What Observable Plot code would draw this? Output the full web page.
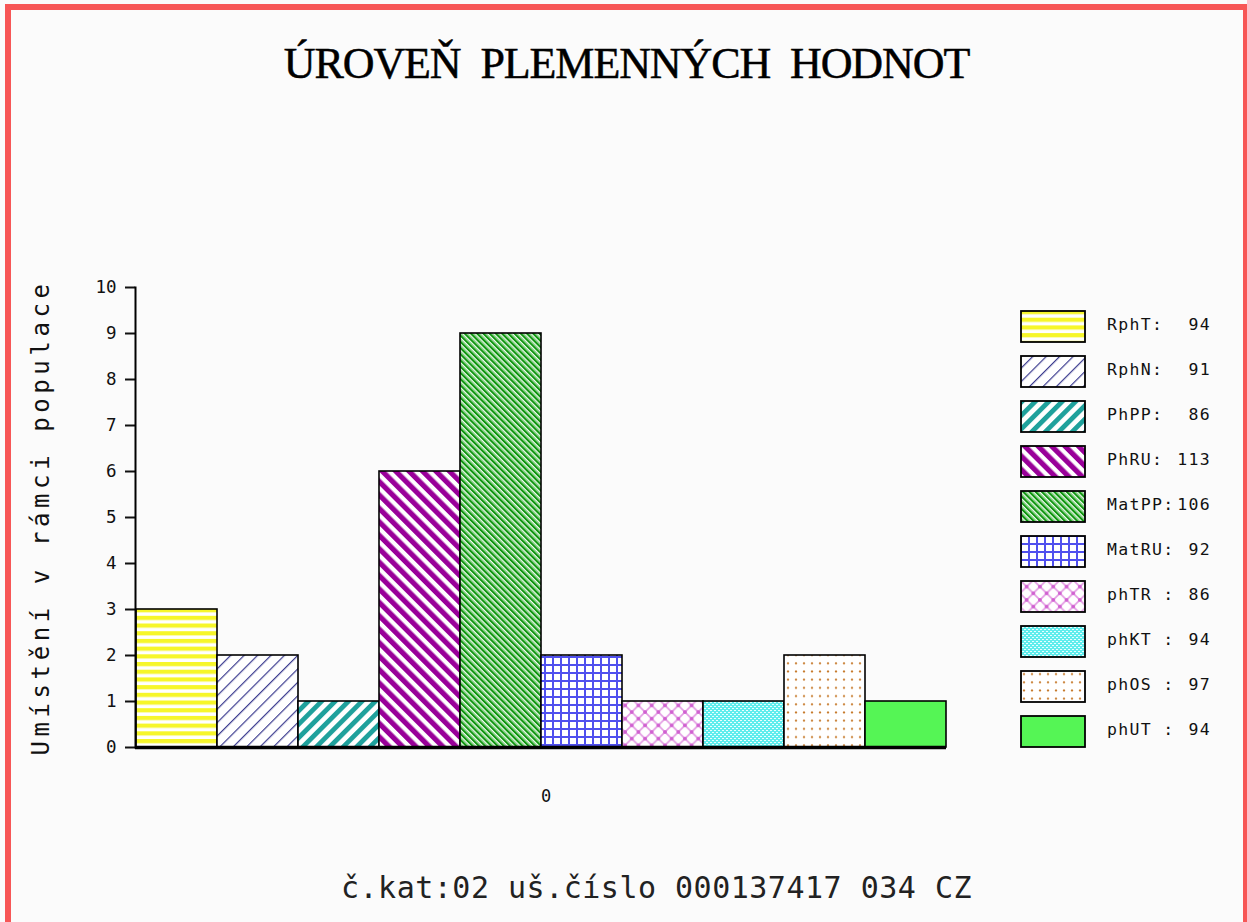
<!DOCTYPE html>
<html>
<head>
<meta charset="utf-8">
<script src="https://cdn.jsdelivr.net/npm/d3@7"></script>
<script src="https://cdn.jsdelivr.net/npm/@observablehq/plot@0.6"></script>
<style>
  html, body { margin: 0; padding: 0; background: #ffffff; overflow: hidden; }
  #page { position: relative; width: 1247px; height: 922px; overflow: hidden; background: #fbfbfb; }
  #frame { position: absolute; left: 5px; top: 4px; width: 1244px; height: 940px; box-sizing: border-box; border: 6px solid #f75656; }
  #title { position: absolute; left: 0; width: 1247px; top: 38px; text-align: center;
           font-family: "Liberation Serif", serif; font-size: 44px; letter-spacing: -1.1px; word-spacing: 10px; color: #000;
           -webkit-text-stroke: 0.5px #000; padding-left: 6px; box-sizing: border-box; }
  #chart { position: absolute; left: 0; top: 200px; }
  #chart g[aria-label="y-axis label"] text { letter-spacing: 4.6px; }
  #caption { position: absolute; left: 0; width: 1247px; top: 870px; text-align: center; padding-left: 66px; box-sizing: border-box;
             font-family: "DejaVu Sans Mono", monospace; font-size: 30px; letter-spacing: 0.5px; color: #222; }
  #legend { position: absolute; left: 1020px; top: 310px; }
  .row { position: relative; height: 45px; width: 200px; }
  .row svg { position: absolute; left: 0; top: 0; }
  .row .lab { position: absolute; left: 87px; top: 5px; font-family: "DejaVu Sans Mono", monospace; font-size: 16.5px; letter-spacing: 1.3px; color: #111; white-space: pre; }
  .row .val { position: absolute; right: 9px; top: 5px; font-family: "DejaVu Sans Mono", monospace; font-size: 16.5px; letter-spacing: 1.3px; color: #111; }
</style>
</head>
<body>
<div id="page">
  <svg width="0" height="0" style="position:absolute">
    <defs>
      <pattern id="p0" patternUnits="userSpaceOnUse" width="8" height="7.7">
        <rect width="8" height="7.7" fill="#ffffff"/>
        <rect y="0" width="8" height="4.2" fill="#f6f62a"/>
      </pattern>
      <pattern id="p1" patternUnits="userSpaceOnUse" width="9.5" height="10" patternTransform="rotate(45)">
        <rect width="9.5" height="10" fill="#ffffff"/>
        <rect x="0" width="1.2" height="10" fill="#3b3b8f"/>
      </pattern>
      <pattern id="p2" patternUnits="userSpaceOnUse" width="9.5" height="10" patternTransform="rotate(45)">
        <rect width="9.5" height="10" fill="#ffffff"/>
        <rect x="0" width="4.8" height="10" fill="#1fa19c"/>
      </pattern>
      <pattern id="p3" patternUnits="userSpaceOnUse" width="9.5" height="10" patternTransform="rotate(-45)">
        <rect width="9.5" height="10" fill="#ffffff"/>
        <rect x="0" width="5.2" height="10" fill="#990099"/>
      </pattern>
      <pattern id="p4" patternUnits="userSpaceOnUse" width="4.4" height="10" patternTransform="rotate(-45)">
        <rect width="4.4" height="10" fill="#f2fbf2"/>
        <rect x="0" width="1.9" height="10" fill="#0f960f"/>
        <rect x="1.9" width="1.3" height="10" fill="#6cc46c"/>
      </pattern>
      <pattern id="p5" patternUnits="userSpaceOnUse" width="8" height="8">
        <rect width="8" height="8" fill="#ffffff"/>
        <rect x="0" y="0" width="8" height="2" fill="#5050ee"/>
        <rect x="0" y="0" width="2" height="8" fill="#5050ee"/>
      </pattern>
      <pattern id="p6" patternUnits="userSpaceOnUse" width="13.3" height="13.3">
        <rect width="13.3" height="13.3" fill="#ffffff"/>
        <path d="M0,0L13.3,13.3M13.3,0L0,13.3" stroke="#e39ae3" stroke-width="1.6"/>
        <circle cx="0" cy="0" r="2" fill="#d060d0"/>
        <circle cx="13.3" cy="0" r="2" fill="#d060d0"/>
        <circle cx="0" cy="13.3" r="2" fill="#d060d0"/>
        <circle cx="13.3" cy="13.3" r="2" fill="#d060d0"/>
        <circle cx="6.65" cy="6.65" r="2" fill="#d060d0"/>
      </pattern>
      <pattern id="p7" patternUnits="userSpaceOnUse" width="4" height="4">
        <rect width="4" height="4" fill="#5eeded"/>
        <rect x="0" y="0" width="2" height="1" fill="#e8ffff"/>
        <rect x="2" y="2" width="2" height="1" fill="#e8ffff"/>
      </pattern>
      <pattern id="p8" patternUnits="userSpaceOnUse" width="8" height="8.2">
        <rect width="8" height="8.2" fill="#ffffff"/>
        <circle cx="4" cy="4" r="1.1" fill="#c77a2c"/>
      </pattern>
      <pattern id="p9" patternUnits="userSpaceOnUse" width="4" height="4">
        <rect width="4" height="4" fill="#55f555"/>
      </pattern>
    </defs>
  </svg>
  <div id="frame"></div>
  <div id="title">ÚROVEŇ PLEMENNÝCH HODNOT</div>
  <div id="chart"></div>
  <div id="legend"></div>
  <div id="caption">č.kat:02 uš.číslo 000137417 034 CZ</div>
</div>
<script>
// ---- data ----
const groups = ["0"];
const series = ["RphT", "RphN", "PhPP", "PhRU", "MatPP", "MatRU", "phTR", "phKT", "phOS", "phUT"];
const placement = [3, 2, 1, 6, 9, 2, 1, 1, 2, 1];
const legendLabels = ["RphT:", "RphN:", "PhPP:", "PhRU:", "MatPP:", "MatRU:", "phTR :", "phKT :", "phOS :", "phUT :"];
const legendValues = [94, 91, 86, 113, 106, 92, 86, 94, 97, 94];
const patternIds = ["p0", "p1", "p2", "p3", "p4", "p5", "p6", "p7", "p8", "p9"];
const yTicks = [0, 1, 2, 3, 4, 5, 6, 7, 8, 9, 10];
const yLabel = "Umístění v rámci populace";

const rows = series.map((s, i) => ({group: groups[0], series: s, value: placement[i], fill: `url(#${patternIds[i]})`}));

const mono = "DejaVu Sans Mono, monospace";

const chart = Plot.plot({
  width: 1247,
  height: 640,
  marginLeft: 135,
  marginRight: 301,
  marginTop: 87,
  marginBottom: 93,
  style: {background: "transparent", color: "#111", overflow: "visible"},
  fx: {domain: groups, padding: 0, axis: null},
  x: {domain: series, padding: 0, axis: null},
  y: {domain: [0, 10], axis: null},
  color: {type: "identity"},
  marks: [
    Plot.barY(rows, {fx: "group", x: "series", y: "value", fill: "fill", stroke: "#000", strokeWidth: 1.6}),
    Plot.ruleY([0], {stroke: "#000", strokeWidth: 3.5}),
    Plot.axisY({ticks: yTicks, tickSize: 10, tickPadding: 9, strokeWidth: 2, label: null, fontSize: 17.5, fontFamily: mono, tickFormat: d3.format("d")}),
    Plot.axisY({ticks: [], label: yLabel, labelAnchor: "center", labelArrow: "none", labelOffset: 104, fontSize: 24, fontFamily: mono, dy: 6}),
    Plot.axisFx({anchor: "bottom", tickSize: 0, tickPadding: 42, label: null, fontSize: 17, fontFamily: mono, dx: 5}),
    Plot.frame({anchor: "left", stroke: "#000", strokeWidth: 2})
  ]
});
document.getElementById("chart").appendChild(chart);

// ---- legend ----
const legend = d3.select("#legend");
legendLabels.forEach((lab, i) => {
  const row = legend.append("div").attr("class", "row");
  const svg = row.append("svg").attr("width", 68).attr("height", 35);
  svg.append("rect").attr("x", 1).attr("y", 1).attr("width", 64).attr("height", 31)
    .attr("fill", `url(#${patternIds[i]})`).attr("stroke", "#000").attr("stroke-width", 1.8);
  row.append("div").attr("class", "lab").text(lab);
  row.append("div").attr("class", "val").text(legendValues[i]);
});
</script>
</body>
</html>
